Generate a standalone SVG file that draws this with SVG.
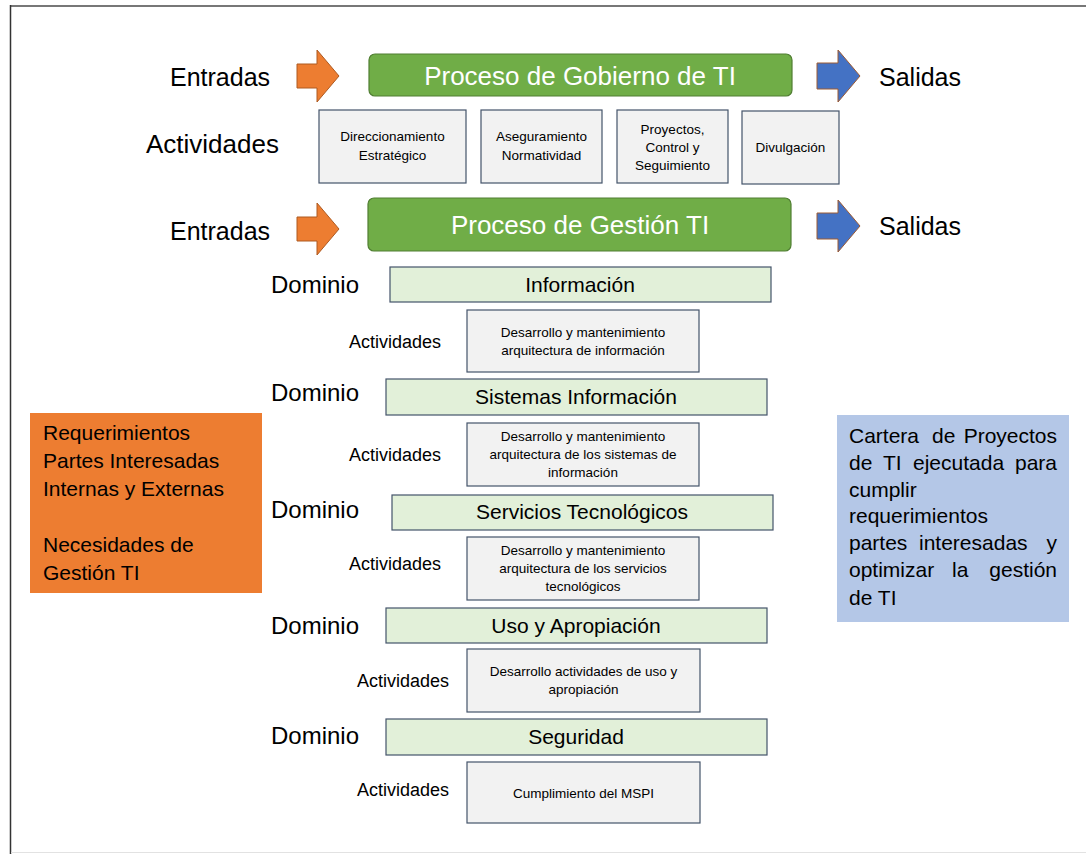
<svg xmlns="http://www.w3.org/2000/svg" width="1086" height="854" viewBox="0 0 1086 854">
<style>
text{font-family:"Liberation Sans",Arial,sans-serif;fill:#000}
.big{font-size:25px}
.proc{fill:#70AD47;stroke:#507E32;stroke-width:1.2}
.ptxt{font-size:26px;fill:#fff;text-anchor:middle}
.act{fill:#F2F2F2;stroke:#44546A;stroke-width:1.2}
.atxt{font-size:13.5px;text-anchor:middle}
.dom{fill:#E2F0D9;stroke:#44546A;stroke-width:1.2}
.dtxt{font-size:21px;text-anchor:middle}
.dlab{font-size:24px}
.alab{font-size:18px}
.side{font-size:21px}
.oarr{fill:#ED7D31;stroke:#AE5A21;stroke-width:1}
.barr{fill:#4472C4;stroke:#9C5A33;stroke-width:1}
</style>
<rect x="0" y="0" width="1086" height="854" fill="#fff"/>
<g id="frame">
<line x1="10" y1="6" x2="1086" y2="6" stroke="#777" stroke-width="2"/>
<line x1="10.5" y1="5" x2="10.5" y2="854" stroke="#333" stroke-width="1.5"/>
<line x1="11" y1="852.5" x2="1086" y2="852.5" stroke="#e2e2e2" stroke-width="1"/>
</g>
<g id="connectors">
<path class="oarr" d="M297,64 L317,64 L317,50 L339,76 L317,102 L317,88 L297,88 Z"/>
<path class="barr" d="M817,63 L838,63 L838,50 L860,76 L838,102 L838,89 L817,89 Z"/>
<path class="oarr" d="M297,217 L317,217 L317,203 L339,229 L317,255 L317,241 L297,241 Z"/>
<path class="barr" d="M817,213 L838,213 L838,200 L860,226 L838,252 L838,239 L817,239 Z"/>
</g>
<g id="labels">
<text class="big" x="170" y="86">Entradas</text>
<text class="big" x="879" y="86">Salidas</text>
<text class="big" x="146" y="153" style="font-size:26px">Actividades</text>
<text class="big" x="170" y="240">Entradas</text>
<text class="big" x="879" y="235">Salidas</text>
</g>
<g id="proceso-gobierno">
<rect class="proc" x="369" y="54" width="423" height="42" rx="6"/>
<text class="ptxt" x="580" y="85">Proceso de Gobierno de TI</text>
</g>
<g id="act-direccionamiento">
<rect class="act" x="319" y="110" width="147" height="73"/>
<text class="atxt" x="392.5" y="141">Direccionamiento</text>
<text class="atxt" x="392.5" y="160">Estratégico</text>
</g>
<g id="act-aseguramiento">
<rect class="act" x="481" y="110" width="121" height="73"/>
<text class="atxt" x="541.5" y="141">Aseguramiento</text>
<text class="atxt" x="541.5" y="160">Normatividad</text>
</g>
<g id="act-proyectos">
<rect class="act" x="617" y="110" width="111" height="73"/>
<text class="atxt" x="672.5" y="134">Proyectos,</text>
<text class="atxt" x="672.5" y="152">Control y</text>
<text class="atxt" x="672.5" y="170">Seguimiento</text>
</g>
<g id="act-divulgacion">
<rect class="act" x="742" y="111" width="97" height="73"/>
<text class="atxt" x="790.5" y="152">Divulgación</text>
</g>
<g id="proceso-gestion">
<rect class="proc" x="368" y="198" width="423" height="53" rx="6"/>
<text class="ptxt" x="580" y="234">Proceso de Gestión TI</text>
</g>
<g id="dom-informacion">
<text class="dlab" x="271" y="293">Dominio</text>
<rect class="dom" x="390" y="267" width="381" height="35"/>
<text class="dtxt" x="580" y="292">Información</text>
</g>
<g id="act-informacion">
<text class="alab" x="349" y="348">Actividades</text>
<rect class="act" x="467" y="310" width="232" height="62"/>
<text class="atxt" x="583" y="337">Desarrollo y mantenimiento</text>
<text class="atxt" x="583" y="355">arquitectura de información</text>
</g>
<g id="dom-sistemas">
<text class="dlab" x="271" y="401">Dominio</text>
<rect class="dom" x="386" y="379" width="381" height="36"/>
<text class="dtxt" x="576" y="404">Sistemas Información</text>
</g>
<g id="act-sistemas">
<text class="alab" x="349" y="461">Actividades</text>
<rect class="act" x="467" y="423" width="232" height="63"/>
<text class="atxt" x="583" y="441">Desarrollo y mantenimiento</text>
<text class="atxt" x="583" y="459">arquitectura de los sistemas de</text>
<text class="atxt" x="583" y="477">información</text>
</g>
<g id="dom-servicios">
<text class="dlab" x="271" y="518">Dominio</text>
<rect class="dom" x="392" y="495" width="381" height="35"/>
<text class="dtxt" x="582" y="519">Servicios Tecnológicos</text>
</g>
<g id="act-servicios">
<text class="alab" x="349" y="570">Actividades</text>
<rect class="act" x="467" y="537" width="232" height="63"/>
<text class="atxt" x="583" y="555">Desarrollo y mantenimiento</text>
<text class="atxt" x="583" y="573">arquitectura de los servicios</text>
<text class="atxt" x="583" y="591">tecnológicos</text>
</g>
<g id="dom-uso">
<text class="dlab" x="271" y="634">Dominio</text>
<rect class="dom" x="386" y="608" width="381" height="35"/>
<text class="dtxt" x="576" y="633">Uso y Apropiación</text>
</g>
<g id="act-uso">
<text class="alab" x="357" y="687">Actividades</text>
<rect class="act" x="467" y="649" width="233" height="63"/>
<text class="atxt" x="583.5" y="676">Desarrollo actividades de uso y</text>
<text class="atxt" x="583.5" y="694">apropiación</text>
</g>
<g id="dom-seguridad">
<text class="dlab" x="271" y="744">Dominio</text>
<rect class="dom" x="386" y="719" width="381" height="36"/>
<text class="dtxt" x="576" y="744">Seguridad</text>
</g>
<g id="act-seguridad">
<text class="alab" x="357" y="796">Actividades</text>
<rect class="act" x="467" y="762" width="233" height="61"/>
<text class="atxt" x="583.5" y="798">Cumplimiento del MSPI</text>
</g>
<g id="requerimientos">
<rect x="30" y="413" width="232" height="180" fill="#ED7D31"/>
<text class="side" x="43" y="440">Requerimientos</text>
<text class="side" x="43" y="468">Partes Interesadas</text>
<text class="side" x="43" y="496">Internas y Externas</text>
<text class="side" x="43" y="552">Necesidades de</text>
<text class="side" x="43" y="580">Gestión TI</text>
</g>
<g id="cartera">
<rect x="837" y="415" width="232" height="207" fill="#B4C7E7"/>
<text class="side" y="443"><tspan x="849">Cartera</tspan><tspan x="932">de</tspan><tspan x="1057" text-anchor="end">Proyectos</tspan></text>
<text class="side" y="470"><tspan x="849">de</tspan><tspan x="883">TI</tspan><tspan x="913">ejecutada</tspan><tspan x="1057" text-anchor="end">para</tspan></text>
<text class="side" x="849" y="497">cumplir</text>
<text class="side" x="849" y="523">requerimientos</text>
<text class="side" y="550"><tspan x="849">partes</tspan><tspan x="919">interesadas</tspan><tspan x="1057" text-anchor="end">y</tspan></text>
<text class="side" y="577"><tspan x="849">optimizar</tspan><tspan x="952">la</tspan><tspan x="1057" text-anchor="end">gestión</tspan></text>
<text class="side" x="849" y="605">de TI</text>
</g>
</svg>
